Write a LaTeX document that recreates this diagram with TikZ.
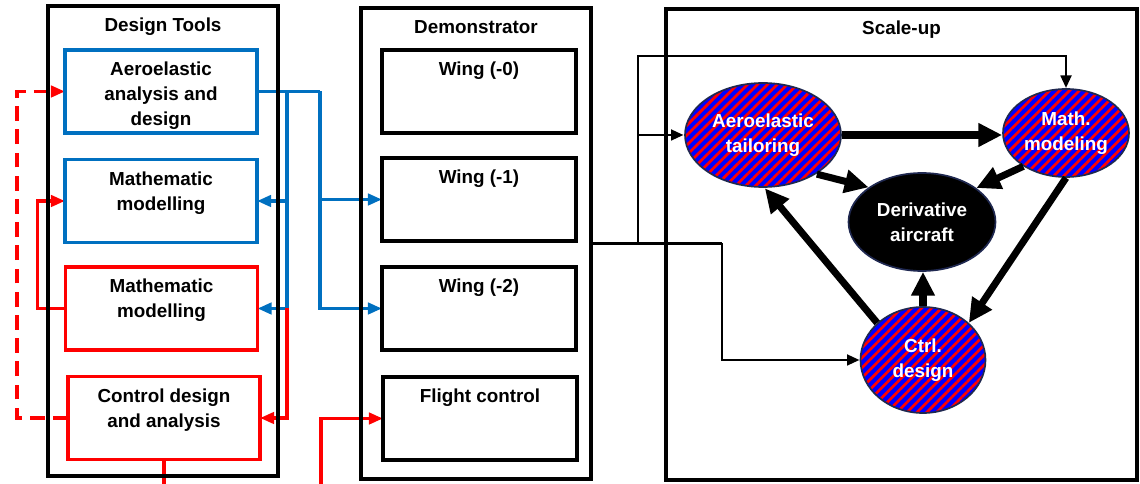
\documentclass[tikz,border=0pt]{standalone}
\usepackage{fontspec}
\setmainfont{Liberation Sans}
\usetikzlibrary{arrows.meta,shapes.geometric,patterns.meta}
\pgfdeclarelayer{back}
\pgfsetlayers{back,main}
\newlength\pxu
\setlength\pxu{0.025cm}
\definecolor{boxblue}{RGB}{0,112,192}
\definecolor{rimnavy}{RGB}{31,40,80}
\tikzset{
  txt/.style={font=\fontsize{13.4pt}{17.7pt}\selectfont\bfseries, align=center, inner sep=0pt},
  boxtitle/.style={label={[txt,anchor=north,yshift=-12\pxu]north:#1}},
  frame/.style={draw=black, line width=2.6pt, inner sep=0pt, outer sep=0pt},
  tool/.style={draw=#1, line width=2.4pt, inner sep=0pt, outer sep=0pt,
    minimum width=192\pxu, minimum height=83\pxu},
  wing/.style={draw=black, line width=2.4pt, inner sep=0pt, outer sep=0pt,
    minimum width=194\pxu, minimum height=83\pxu},
  hub/.style={ellipse, draw=rimnavy, line width=1.2pt, txt, text=white},
  striped/.style={hub, preaction={fill=blue},
    pattern={Lines[angle=45,distance=5pt,line width=1.9pt]}, pattern color=red},
  wire/.style={line width=2.1pt},
  tip/.style={-{Triangle[length=9pt,width=7.5pt]}},
  bwire/.style={boxblue, line width=2.5pt},
  rwire/.style={red, line width=2.5pt},
  tipc/.style={-{Triangle[length=10pt,width=8pt]}},
  bold/.style={line width=5pt, -{Triangle[length=17pt,width=16pt]}}
}
\begin{document}
\begin{tikzpicture}[x=0.025cm, y=-0.025cm]
        \useasboundingbox (0,0) rectangle (1140,484);
        %Design tools
        \node[frame, minimum width=230\pxu, minimum height=470\pxu,
          boxtitle=Design Tools] (dt) at (163,241) {};
        \node[tool=boxblue, boxtitle={Aeroelastic\\analysis and\\design}] (aero) at (161,91.5) {};
        \node[tool=boxblue, boxtitle={Mathematic\\modelling}] (mmb) at (161,201) {};
        \node[tool=red, boxtitle={Mathematic\\modelling}] (mmr) at (161.5,308.5) {};
        \node[tool=red, boxtitle={Control design\\and analysis}] (cda) at (164,418) {};
        %Demonstrator
        \node[frame, minimum width=230\pxu, minimum height=471\pxu,
          boxtitle=Demonstrator] (demo) at (476,243.5) {};
        \node[wing, boxtitle={Wing (-0)}] (w0) at (479,91.5) {};
        \node[wing, boxtitle={Wing (-1)}] (w1) at (479,199.5) {};
        \node[wing, boxtitle={Wing (-2)}] (w2) at (479,308.5) {};
        \node[wing, boxtitle={Flight control}] (fc) at (480,418.5) {};
        %Scale-up
        \node[frame, line width=2.2pt, minimum width=471\pxu, minimum height=471\pxu,
          boxtitle=Scale-up] (su) at (901.5,244.5) {};
        \node[striped, minimum width=156\pxu, minimum height=104\pxu] (aet) at (763,135) {Aeroelastic\\tailoring};
        \node[striped, minimum width=126\pxu, minimum height=88\pxu] (mth) at (1066,133) {Math.\\modeling};
        \node[hub, fill=black, minimum width=147\pxu, minimum height=98\pxu] (der) at (922,222) {Derivative\\aircraft};
        \node[striped, minimum width=125\pxu, minimum height=106\pxu] (ctl) at (923,360) {Ctrl.\\design};
        \draw[bold] (aet.east) -- (aet.east -| mth.west);
        \draw[bold] (aet.-36) -- (der.147);
        \draw[bold] (mth.218) -- (der.32);
        \draw[bold] (ctl.north) -- (ctl.north |- der.south);
        \draw[bold] (ctl.141) -- (aet.-88);
        \draw[bold] (mth.south) -- (ctl.39);
        \begin{pgfonlayer}{back}
        %Blue links
        \coordinate (b1) at (287,91.5);
        \coordinate (b2) at (320,91.5);
        \draw[bwire] (aero.east) -- (b2);
        \draw[bwire, tipc] (b1) |- (mmb.east);
        \draw[bwire, tipc] (b1) |- (mmr.east);
        \draw[bwire, tipc] (b2) |- (w1.west);
        \draw[bwire, tipc] (b2) |- (w2.west);
        %Red links
        \draw[rwire, tipc] (b1 |- mmr.east) |- (cda.east);
        \draw[rwire, tipc] (mmr.west) -- ++(-28,0) |- (mmb.west);
        \draw[rwire, tipc, dash pattern=on 10.5pt off 6pt] (cda.west) -- ++(-51,0) |- (aero.west);
        \draw[rwire] (cda.south) -- ++(0,25);
        \coordinate (fcin) at (321,484);
        \draw[rwire, tipc] (fcin) |- (fc.west);
        %Black links
        \coordinate (sj) at (638,243.5);
        \coordinate (cj) at (722,243.5);
        \coordinate (top) at (800,56);
        \draw[wire] (demo.east) -- (cj);
        \draw[wire, tip] (cj) |- (ctl.west);
        \draw[wire, tip] (sj) |- (top) -| (mth.north);
        \draw[wire, tip] (sj |- aet.west) -- (aet.west);
        \end{pgfonlayer}
\end{tikzpicture}
\end{document}
